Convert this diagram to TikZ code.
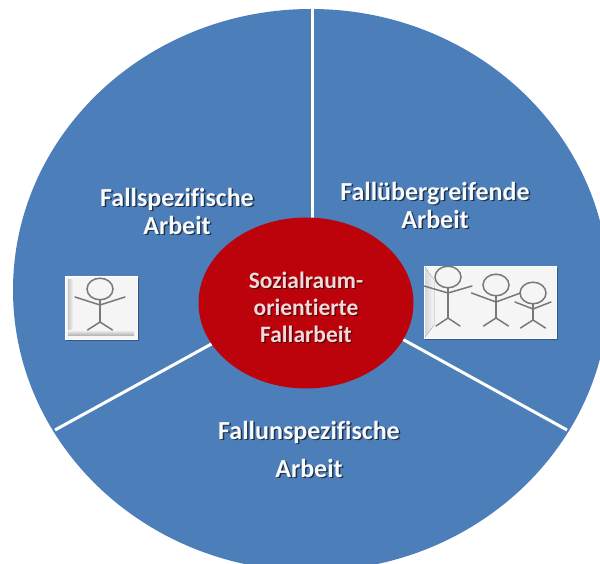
\documentclass[tikz,border=0pt]{standalone}
\usepackage{fontspec}
\usetikzlibrary{shapes.geometric}
\setmainfont{Carlito}[Ligatures=NoCommon]
\definecolor{bluedisc}{RGB}{76,126,186}
\definecolor{reddisc}{RGB}{188,2,10}
\definecolor{stick}{RGB}{120,120,120}
\tikzset{
  x=1pt,y=-1pt,
  disc/.style={ellipse,inner sep=0pt,fill=bluedisc,minimum width=596pt,minimum height=562pt},
  hubdisc/.style={ellipse,inner sep=0pt,fill=reddisc,minimum width=215pt,minimum height=171pt},
  spoke/.style={draw=white,line width=3pt},
  lbl/.style={font=\bfseries\fontsize{26}{28}\selectfont,text=white!96!bluedisc,align=center},
  lblshadow/.style={font=\bfseries\fontsize{26}{28}\selectfont,text=black!60!bluedisc,align=center},
  hublbl/.style={font=\bfseries\fontsize{23.5}{27}\selectfont,text=white!85!reddisc,align=center},
  hubshadow/.style={font=\bfseries\fontsize{23.5}{27}\selectfont,text=black!60!reddisc,align=center},
  tile/.style={fill=white!96!black,draw=white,line width=0.6pt},
  fig/.style={draw=stick,line width=1.5pt,line cap=round}
}
\newcommand{\shlabel}[4]{%
  \node[lblshadow] (#1s) at (#2+1.5,#3+1.5) {#4};
  \node[lbl] (#1) at (#2,#3) {#4};}
% x, head y, head rx, arm-tip y, arm-joint y, crotch y, feet y, arm span, leg span
\newcommand{\stickman}[9]{%
  \draw[fig] (#1,#2) ellipse[x radius=#3,y radius=#3*0.83];
  \draw[fig] (#1,#2+#3*0.83) -- (#1,#6);
  \draw[fig] (#1-#8,#4) -- (#1,#5) -- (#1+#8,#4);
  \draw[fig] (#1-#9,#7) -- (#1,#6) -- (#1+#9,#7);}
\begin{document}
\begin{tikzpicture}
\useasboundingbox (0,0) rectangle (600,564);
\fill[white] (0,0) rectangle (600,564);
\clip (0,0) rectangle (600,564);
\node[disc] (wheel) at (311,290) {};
\coordinate (top) at (312,0);
\coordinate (topin) at (312,225);
\coordinate (ll) at (55,430);
\coordinate (llin) at (215,342);
\coordinate (lr) at (567,430);
\coordinate (lrin) at (395,335);
\draw[spoke] (top) -- (topin);
\draw[spoke] (ll) -- (llin);
\draw[spoke] (lr) -- (lrin);
\node[hubdisc] (hub) at (306,303) {};
\shlabel{fs}{177}{211}{Fallspezifische\\Arbeit}
\shlabel{fu}{435}{205}{Fallübergreifende\\Arbeit}
\shlabel{fn}{309}{449}{Fallunspezifische\\[10pt]Arbeit}
\node[hubshadow] (hubs) at (307.2,308.7) {Sozialraum-\\orientierte\\Fallarbeit};
\node[hublbl] (hubt) at (306,307.5) {Sozialraum-\\orientierte\\Fallarbeit};
% left tile
\fill[black!30!bluedisc] (66,278) rectangle (139,341);
\fill[tile] (65,276) rectangle (137,339);
\fill[left color=black!22,right color=white!96!black] (68,280) rectangle (73,335);
\fill[bottom color=black!28,top color=white!96!black] (68,330) rectangle (134,335);
\stickman{100}{289}{13}{297}{305}{322}{330}{25}{12.5}
% right tile
\fill[black!30!bluedisc] (425,268) rectangle (558,340);
\fill[tile] (424,266) rectangle (556,338);
\fill[left color=black!16,right color=white!96!black] (425,267) -- (434,280) -- (434,325) -- (425,337) -- cycle;
\stickman{448}{277}{13}{286}{293}{318}{326}{24}{12}
\stickman{496}{285}{13}{293}{302}{318}{326}{24.5}{12.5}
\stickman{533}{293}{13}{302}{309}{320}{328}{18}{12.5}
\end{tikzpicture}
\end{document}
